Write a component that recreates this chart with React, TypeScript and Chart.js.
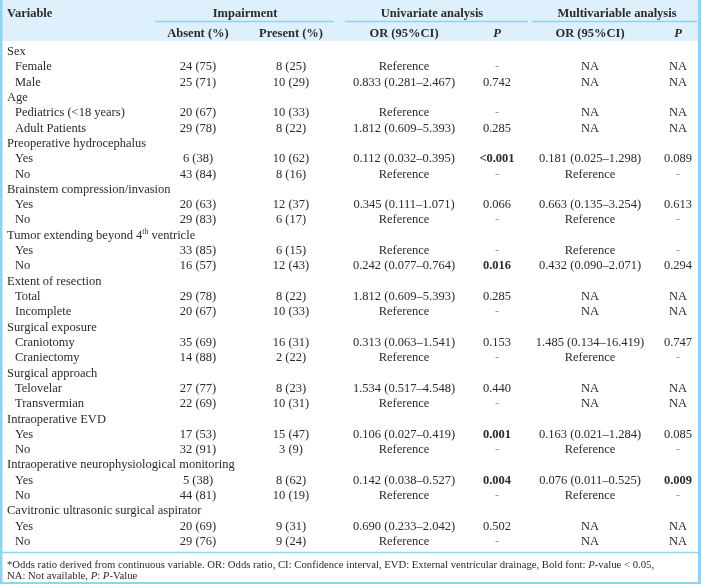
import React, { useEffect, useRef } from "react";
import { Chart, registerables } from "chart.js";

Chart.register(...registerables);

// ---------- DATA ----------
const rowLabels = [
  "Sex", "Female", "Male",
  "Age", "Pediatrics (<18 years)", "Adult Patients",
  "Preoperative hydrocephalus", "Yes", "No",
  "Brainstem compression/invasion", "Yes", "No",
  "Tumor extending beyond 4^th ventricle", "Yes", "No",
  "Extent of resection", "Total", "Incomplete",
  "Surgical exposure", "Craniotomy", "Craniectomy",
  "Surgical approach", "Telovelar", "Transvermian",
  "Intraoperative EVD", "Yes", "No",
  "Intraoperative neurophysiological monitoring", "Yes", "No",
  "Cavitronic ultrasonic surgical aspirator", "Yes", "No",
];
const isGroupRow = [
  true, false, false, true, false, false, true, false, false, true, false, false,
  true, false, false, true, false, false, true, false, false, true, false, false,
  true, false, false, true, false, false, true, false, false,
];
const absent = ["", "24 (75)", "25 (71)", "", "20 (67)", "29 (78)", "", "6 (38)", "43 (84)", "", "20 (63)", "29 (83)", "", "33 (85)", "16 (57)", "", "29 (78)", "20 (67)", "", "35 (69)", "14 (88)", "", "27 (77)", "22 (69)", "", "17 (53)", "32 (91)", "", "5 (38)", "44 (81)", "", "20 (69)", "29 (76)"];
const present = ["", "8 (25)", "10 (29)", "", "10 (33)", "8 (22)", "", "10 (62)", "8 (16)", "", "12 (37)", "6 (17)", "", "6 (15)", "12 (43)", "", "8 (22)", "10 (33)", "", "16 (31)", "2 (22)", "", "8 (23)", "10 (31)", "", "15 (47)", "3 (9)", "", "8 (62)", "10 (19)", "", "9 (31)", "9 (24)"];
const uniOR = ["", "Reference", "0.833 (0.281–2.467)", "", "Reference", "1.812 (0.609–5.393)", "", "0.112 (0.032–0.395)", "Reference", "", "0.345 (0.111–1.071)", "Reference", "", "Reference", "0.242 (0.077–0.764)", "", "1.812 (0.609–5.393)", "Reference", "", "0.313 (0.063–1.541)", "Reference", "", "1.534 (0.517–4.548)", "Reference", "", "0.106 (0.027–0.419)", "Reference", "", "0.142 (0.038–0.527)", "Reference", "", "0.690 (0.233–2.042)", "Reference"];
const uniP = ["", "-", "0.742", "", "-", "0.285", "", "<0.001", "-", "", "0.066", "-", "", "-", "0.016", "", "0.285", "-", "", "0.153", "-", "", "0.440", "-", "", "0.001", "-", "", "0.004", "-", "", "0.502", "-"];
const multiOR = ["", "NA", "NA", "", "NA", "NA", "", "0.181 (0.025–1.298)", "Reference", "", "0.663 (0.135–3.254)", "Reference", "", "Reference", "0.432 (0.090–2.071)", "", "NA", "NA", "", "1.485 (0.134–16.419)", "Reference", "", "NA", "NA", "", "0.163 (0.021–1.284)", "Reference", "", "0.076 (0.011–0.525)", "Reference", "", "NA", "NA"];
const multiP = ["", "NA", "NA", "", "NA", "NA", "", "0.089", "-", "", "0.613", "-", "", "-", "0.294", "", "NA", "NA", "", "0.747", "-", "", "NA", "NA", "", "0.085", "-", "", "0.009", "-", "", "NA", "NA"];

const groupHeaders = ["Impairment", "Univariate analysis", "Multivariable analysis"];
const subHeaders = ["Absent (%)", "Present (%)", "OR (95%CI)", "P", "OR (95%CI)", "P"];
const footnote1: [string, boolean][] = [
  ["*Odds ratio derived from continuous variable. OR: Odds ratio, CI: Confidence interval, EVD: External ventricular drainage, Bold font: ", false],
  ["P", true],
  ["-value < 0.05,", false],
];
const footnote2: [string, boolean][] = [
  ["NA: Not available, ", false],
  ["P", true],
  [": ", false],
  ["P", true],
  ["-Value", false],
];

// ---------- LAYOUT / STYLE ----------
const W = 701;
const H = 584;
const FONT = '"Liberation Serif", "DejaVu Serif", serif';
const FS = 12.5;
const TEXT = "#2b2b2b";
const BLUE = "#8fd3f2";
const HEADER_BG = "#ddf0fb";
const colCenters = [198, 291, 404, 497, 590, 678];
const groupSpans = [[155, 334, 245], [345, 528, 432], [532, 697, 617]];

const isSig = (p: string) => {
  const v = parseFloat(p.replace("<", ""));
  return !isNaN(v) && v < 0.05;
};

const tablePlugin = {
  id: "tablePlugin",
  beforeDraw(chart: any) {
    const ctx = chart.ctx as CanvasRenderingContext2D;
    ctx.save();
    ctx.fillStyle = "#ffffff";
    ctx.fillRect(0, 0, W, H);
    ctx.fillStyle = HEADER_BG;
    ctx.fillRect(0, 0, W, 41);
    ctx.restore();
  },
  afterDraw(chart: any) {
    const ctx = chart.ctx as CanvasRenderingContext2D;
    const xs = chart.scales.x;
    const ys = chart.scales.y;
    ctx.save();
    ctx.fillStyle = TEXT;
    ctx.textBaseline = "alphabetic";

    // header
    ctx.font = `bold ${FS}px ${FONT}`;
    ctx.textAlign = "left";
    ctx.fillText("Variable", xs.getPixelForValue(7), 16.5);
    ctx.textAlign = "center";
    groupHeaders.forEach((g, i) => {
      ctx.fillText(g, xs.getPixelForValue(groupSpans[i][2]), 16.5);
    });
    ctx.strokeStyle = BLUE;
    ctx.lineWidth = 1.5;
    groupSpans.forEach(([a, b]) => {
      ctx.beginPath();
      ctx.moveTo(xs.getPixelForValue(a), 21.5);
      ctx.lineTo(xs.getPixelForValue(b), 21.5);
      ctx.stroke();
    });
    subHeaders.forEach((s, i) => {
      ctx.font = s === "P" ? `italic bold ${FS}px ${FONT}` : `bold ${FS}px ${FONT}`;
      ctx.fillText(s, xs.getPixelForValue(colCenters[i]), 36.5);
    });

    // rows
    const cols = [absent, present, uniOR, uniP, multiOR, multiP];
    rowLabels.forEach((label, r) => {
      const y = ys.getPixelForValue(r) + 4;
      ctx.font = `${FS}px ${FONT}`;
      ctx.textAlign = "left";
      let x = xs.getPixelForValue(isGroupRow[r] ? 7 : 15);
      const parts = label.split(/\^(\w+)/);
      parts.forEach((part, k) => {
        if (k % 2 === 1) {
          ctx.font = `${FS * 0.62}px ${FONT}`;
          ctx.fillText(part, x, y - 4.5);
          x += ctx.measureText(part).width;
          ctx.font = `${FS}px ${FONT}`;
        } else {
          ctx.fillText(part, x, y);
          x += ctx.measureText(part).width;
        }
      });
      ctx.textAlign = "center";
      cols.forEach((col, c) => {
        const v = col[r];
        if (!v) return;
        const bold = (c === 3 || c === 5) && isSig(v);
        ctx.font = `${bold ? "bold " : ""}${FS}px ${FONT}`;
        ctx.fillStyle = v === "-" ? "#9a9a9a" : TEXT;
        ctx.fillText(v, xs.getPixelForValue(colCenters[c]), y);
        ctx.fillStyle = TEXT;
      });
    });

    // footer line
    ctx.strokeStyle = BLUE;
    ctx.lineWidth = 1.5;
    ctx.beginPath();
    ctx.moveTo(0, 552.5);
    ctx.lineTo(W, 552.5);
    ctx.stroke();

    // footnotes
    const drawSegs = (segs: [string, boolean][], y: number) => {
      let x = 7;
      ctx.textAlign = "left";
      segs.forEach(([t, it]) => {
        ctx.font = `${it ? "italic " : ""}10.7px ${FONT}`;
        ctx.fillText(t, x, y);
        x += ctx.measureText(t).width;
      });
    };
    drawSegs(footnote1, 568);
    drawSegs(footnote2, 579);

    // outer border
    ctx.fillStyle = BLUE;
    ctx.fillRect(0, 0, 2.5, H);
    ctx.fillRect(W - 3, 0, 3, H);
    ctx.fillRect(0, H - 2, W, 2);
    ctx.restore();
  },
};

export default function App() {
  const ref = useRef<HTMLCanvasElement | null>(null);
  useEffect(() => {
    document.body.style.margin = "0";
    if (!ref.current) return;
    const pitch = (541 - 51) / (rowLabels.length - 1);
    const top = 51 - pitch / 2;
    const bottom = 541 + pitch / 2;
    const chart = new Chart(ref.current, {
      type: "scatter",
      data: { datasets: [] },
      options: {
        responsive: false,
        animation: false,
        events: [],
        layout: { padding: { top, bottom: H - bottom, left: 0, right: 0 } },
        plugins: { legend: { display: false }, tooltip: { enabled: false } },
        scales: {
          x: { type: "linear", min: 0, max: W, display: false },
          y: { type: "linear", min: -0.5, max: rowLabels.length - 0.5, reverse: true, display: false },
        },
      },
      plugins: [tablePlugin],
    });
    return () => chart.destroy();
  }, []);
  return <canvas ref={ref} width={W} height={H} style={{ display: "block", width: W, height: H }} />;
}
